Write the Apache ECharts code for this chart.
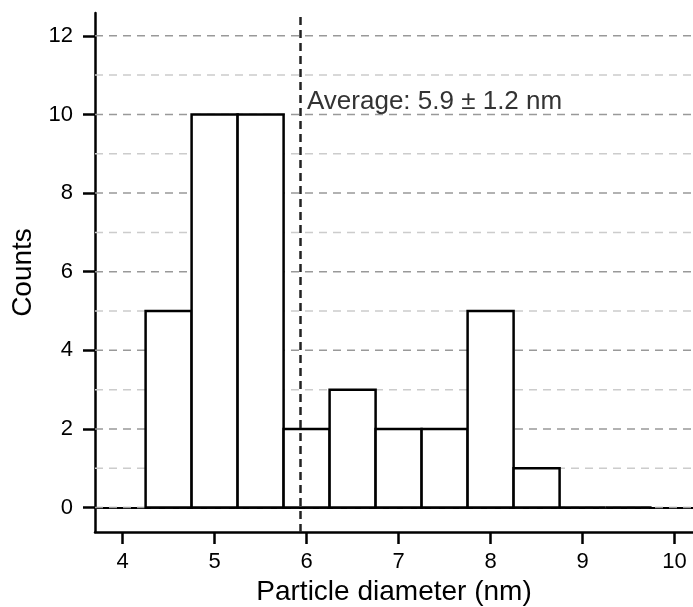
<!DOCTYPE html>
<html>
<head>
<meta charset="utf-8">
<script src="https://cdn.jsdelivr.net/npm/echarts@6.0.0/dist/echarts.min.js"></script>
<style>
  html, body { margin: 0; padding: 0; background: #fff; }
  #chart { width: 693px; height: 607px; }
</style>
</head>
<body>
<div id="chart"></div>
<script>
// histogram bins (nm) and counts
const binEdges = [4.25, 4.75, 5.25, 5.75, 6.25, 6.75, 7.25, 7.75, 8.25, 8.75, 9.25, 9.75];
const counts = [5, 10, 10, 2, 3, 2, 2, 5, 1, 0, 0];
const avgDiameter = 5.93;
const avgLabel = 'Average: 5.9 \u00b1 1.2 nm';

const xTicks = [4, 5, 6, 7, 8, 9, 10];
const yTicks = [0, 2, 4, 6, 8, 10, 12];
const gridMajor = [0, 2, 4, 6, 8, 10, 12];
const gridMinor = [1, 3, 5, 7, 9, 11];

const xRange = [3.7, 10.2];
const yRange = [-0.62, 12.58];

const font = 'Liberation Sans';

const bins = counts.map((c, i) => [binEdges[i], binEdges[i + 1], c]);
const gridRows = gridMajor.map(v => [v, 1]).concat(gridMinor.map(v => [v, 0]));

const chart = echarts.init(document.getElementById('chart'));

chart.setOption({
    animation: false,
    backgroundColor: '#fff',
    grid: { left: 95, top: 13, right: 0, bottom: 75, containLabel: false, outerBoundsMode: 'none' },
    xAxis: [{
        type: 'value', min: xRange[0], max: xRange[1], position: 'bottom',
        name: 'Particle diameter (nm)', nameLocation: 'middle', nameGap: 42,
        nameTextStyle: { fontFamily: font, fontSize: 28, color: '#000' },
        axisLine: { show: true, onZero: false, lineStyle: { color: '#000', width: 2.5 } },
        axisTick: { show: true, length: 12, customValues: xTicks, lineStyle: { color: '#000', width: 2.5 } },
        axisLabel: { customValues: xTicks, margin: 19, fontFamily: font, fontSize: 22, color: '#000' },
        splitLine: { show: false }
    }, {
        type: 'value', min: xRange[0], max: xRange[1], position: 'top',
        axisLine: { show: true, lineStyle: { color: '#000', width: 2 } },
        axisTick: { show: false }, axisLabel: { show: false }, splitLine: { show: false }
    }],
    yAxis: {
        type: 'value', min: yRange[0], max: yRange[1],
        name: 'Counts', nameLocation: 'middle', nameGap: 58,
        nameTextStyle: { fontFamily: font, fontSize: 28, color: '#000' },
        axisLine: { show: true, onZero: false, lineStyle: { color: '#000', width: 2.5 } },
        axisTick: { show: true, length: 12, customValues: yTicks, lineStyle: { color: '#000', width: 2.5 } },
        axisLabel: { customValues: yTicks, margin: 22, fontFamily: font, fontSize: 22, color: '#000' },
        splitLine: { show: false }
    },
    series: [{
        // dashed horizontal grid lines
        type: 'custom', z: 1, silent: true,
        data: gridRows,
        renderItem: (params, api) => {
            const v = api.value(0);
            const a = api.coord([xRange[0], v]);
            const b = api.coord([xRange[1], v]);
            return {
                type: 'line',
                shape: { x1: a[0], y1: a[1], x2: b[0], y2: b[1] },
                style: { stroke: api.value(1) ? '#999' : '#cccccc', lineWidth: 1.5, lineDash: [8, 6] }
            };
        }
    }, {
        type: 'custom', z: 2, silent: true,
        data: bins,
        renderItem: (params, api) => {
            const p0 = api.coord([api.value(0), api.value(2)]);
            const p1 = api.coord([api.value(1), 0]);
            return {
                type: 'rect',
                shape: { x: p0[0], y: p0[1], width: p1[0] - p0[0], height: p1[1] - p0[1] },
                style: { fill: '#fff', stroke: '#000', lineWidth: 2.5 }
            };
        },
        markLine: {
            silent: true, symbol: 'none', z: 3,
            label: { show: false },
            lineStyle: { color: '#222', width: 2.5, type: [8, 5] },
            data: [{ xAxis: avgDiameter }]
        }
    }],
    graphic: [{
        type: 'text', left: 307, top: 89, z: 10,
        style: { text: avgLabel, fontFamily: font, fontSize: 26, fill: '#333' }
    }]
});
</script>
</body>
</html>
